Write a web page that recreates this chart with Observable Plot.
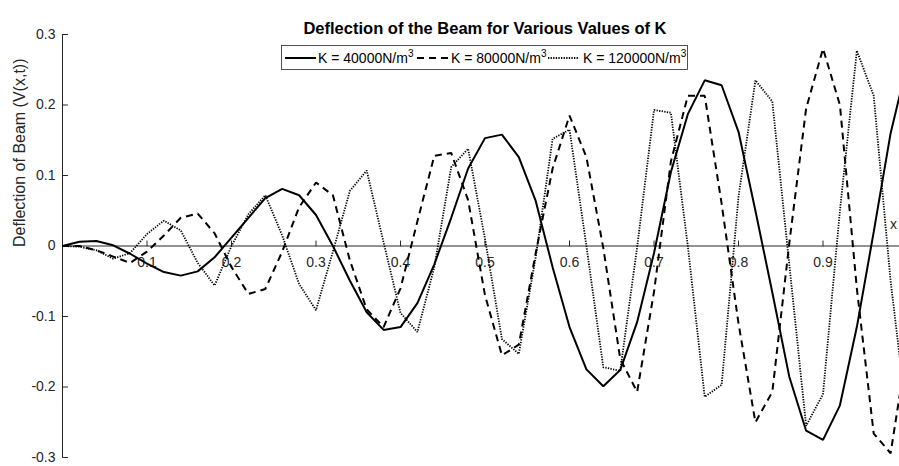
<!DOCTYPE html>
<html>
<head>
<meta charset="utf-8">
<script src="https://cdn.jsdelivr.net/npm/d3@7"></script>
<script src="https://cdn.jsdelivr.net/npm/@observablehq/plot@0.6"></script>
<style>
  html, body { margin: 0; padding: 0; background: #ffffff; }
  #chart { width: 899px; height: 466px; overflow: hidden; }
  #chart svg { display: block; }
</style>
</head>
<body>
<div id="chart"></div>
<script>
// ---- data ----
const xs = [0, 0.02, 0.04, 0.06, 0.08, 0.10, 0.12, 0.14, 0.16, 0.18,
            0.20, 0.22, 0.24, 0.26, 0.28, 0.30, 0.32, 0.34, 0.36, 0.38,
            0.40, 0.42, 0.44, 0.46, 0.48, 0.50, 0.52, 0.54, 0.56, 0.58,
            0.60, 0.62, 0.64, 0.66, 0.68, 0.70, 0.72, 0.74, 0.76, 0.78,
            0.80, 0.82, 0.84, 0.86, 0.88, 0.90, 0.92, 0.94, 0.96, 0.98, 1.00];

const k40000 = [0, 0.006, 0.007, 0.001, -0.011, -0.025, -0.037, -0.042, -0.036, -0.016,
                0.012, 0.040, 0.068, 0.081, 0.072, 0.044, 0.000, -0.049, -0.094, -0.119,
                -0.115, -0.081, -0.026, 0.040, 0.110, 0.153, 0.158, 0.126, 0.064, -0.030,
                -0.115, -0.175, -0.199, -0.176, -0.108, -0.010, 0.105, 0.187, 0.235, 0.228,
                0.162, 0.050, -0.066, -0.185, -0.262, -0.275, -0.226, -0.115, 0.020, 0.160, 0.260];

const k80000 = [0, 0.000, -0.006, -0.015, -0.024, -0.008, 0.015, 0.040, 0.046, 0.018,
                -0.030, -0.068, -0.061, -0.008, 0.055, 0.090, 0.072, -0.020, -0.090, -0.115,
                -0.060, 0.035, 0.128, 0.132, 0.065, -0.070, -0.155, -0.140, -0.010, 0.110,
                0.185, 0.126, -0.003, -0.160, -0.207, -0.065, 0.120, 0.213, 0.213, 0.060,
                -0.110, -0.250, -0.207, 0.003, 0.195, 0.280, 0.200, -0.060, -0.266, -0.294, -0.140];

const k120000 = [0, -0.001, -0.006, -0.018, -0.010, 0.017, 0.036, 0.022, -0.024, -0.056,
                 0.000, 0.045, 0.072, 0.015, -0.054, -0.091, -0.008, 0.078, 0.107, 0.005,
                 -0.095, -0.122, -0.030, 0.112, 0.138, 0.010, -0.132, -0.153, -0.016, 0.152,
                 0.165, 0.000, -0.172, -0.177, -0.002, 0.193, 0.189, 0.000, -0.214, -0.197,
                 0.070, 0.235, 0.205, -0.025, -0.255, -0.210, 0.050, 0.277, 0.213, -0.050, -0.250];

const seriesNames = ["K = 40000N/m", "K = 80000N/m", "K = 120000N/m"];
const seriesSup = "3";

const xTicks = [0.1, 0.2, 0.3, 0.4, 0.5, 0.6, 0.7, 0.8, 0.9];
const xTickLabels = ["0.1", "0.2", "0.3", "0.4", "0.5", "0.6", "0.7", "0.8", "0.9"];
const yTicks = [-0.3, -0.2, -0.1, 0, 0.1, 0.2, 0.3];
const yTickLabels = ["-0.3", "-0.2", "-0.1", "0", "0.1", "0.2", "0.3"];

const titleText = "Deflection of the Beam for Various Values of K";
const yLabelText = "Deflection of Beam (V(x,t))";
const xLabelText = "x";

// ---- build table ----
const seriesValues = [k40000, k80000, k120000];
const rows = [];
seriesValues.forEach((vals, s) => vals.forEach((v, i) => rows.push({x: xs[i], v, s})));

const styles = [
  {strokeWidth: 2, strokeDasharray: null},
  {strokeWidth: 2, strokeDasharray: "7,5"},
  {strokeWidth: 1.8, strokeDasharray: "1.3,1.3"}
];

const axisColor = "#262626";
const font = "Arial, 'Liberation Sans', Helvetica, sans-serif";
const yLabelMap = new Map(yTicks.map((t, i) => [t, yTickLabels[i]]));

const tickShape = {
  draw(context, l) { context.moveTo(0, 0); context.lineTo(0, -l); }
};

const chart = Plot.plot({
  width: 899,
  height: 466,
  marginTop: 34,
  marginBottom: 9,
  marginLeft: 62,
  marginRight: 0,
  style: {fontFamily: font, background: "#ffffff", color: axisColor},
  x: {domain: [0, 0.9905], axis: null},
  y: {domain: [-0.3, 0.3], axis: null},
  marks: [
    // y axis spine and x axis line through the origin
    Plot.ruleX([0], {stroke: axisColor, strokeWidth: 1}),
    Plot.ruleY([0], {stroke: axisColor, strokeWidth: 1}),
    // y axis labels
    Plot.axisY(yTicks, {
      anchor: "left", tickSize: 0, tickPadding: 7, fontSize: 14,
      tickFormat: d => yLabelMap.get(d), fill: axisColor, label: null
    }),
    // inward ticks on y axis
    Plot.vector(yTicks, {x: 0, y: d => d, length: 5, rotate: 90, anchor: "start",
      shape: tickShape, stroke: axisColor, strokeWidth: 1}),
    // inward (upward) ticks on x axis at y = 0
    Plot.vector(xTicks, {x: d => d, y: 0, length: 5, rotate: 0, anchor: "start",
      shape: tickShape, stroke: axisColor, strokeWidth: 1}),
    // x tick labels below the origin axis
    Plot.text(xTicks, {x: d => d, y: 0, text: (d, i) => xTickLabels[i], dy: 17,
      fontSize: 14, fill: axisColor}),
    // series
    ...seriesValues.map((_, s) => Plot.line(rows.filter(r => r.s === s), {
      x: "x", y: "v", stroke: "#000000", strokeWidth: styles[s].strokeWidth,
      strokeDasharray: styles[s].strokeDasharray, clip: true,
      strokeLinejoin: "miter", strokeLinecap: "butt"
    })),
    // title
    Plot.text([titleText], {frameAnchor: "top", dx: 4, dy: -12, fontSize: 16.5,
      fontWeight: "bold", fill: "#000000"}),
    // y label
    Plot.text([yLabelText], {frameAnchor: "left", dx: -43, dy: 1, rotate: -90,
      fontSize: 16, fill: axisColor})
  ]
});

document.getElementById("chart").appendChild(chart);

// ---- x label (at the right end) and legend ----
const svg = d3.select(chart);
svg.append("text")
  .attr("x", 890).attr("y", 229).attr("text-anchor", "start")
  .attr("font-size", 14).attr("font-family", font).attr("fill", axisColor)
  .text(xLabelText);

const legend = svg.append("g").attr("font-family", font).attr("font-size", 14)
  .attr("text-anchor", "start");
legend.append("rect")
  .attr("x", 281.5).attr("y", 45.5).attr("width", 406).attr("height", 24)
  .attr("fill", "#ffffff").attr("stroke", axisColor).attr("stroke-width", 0.8);
const sampleX = [285, 417, 548];
const textX = [318, 451, 583];
seriesNames.forEach((name, s) => {
  legend.append("line")
    .attr("x1", sampleX[s]).attr("x2", sampleX[s] + 31)
    .attr("y1", 58).attr("y2", 58)
    .attr("stroke", "#000").attr("stroke-width", styles[s].strokeWidth)
    .attr("stroke-dasharray", styles[s].strokeDasharray);
  const t = legend.append("text").attr("x", textX[s]).attr("y", 63)
    .attr("fill", "#000").attr("text-anchor", "start");
  t.append("tspan").text(name);
  t.append("tspan").attr("dy", -6).attr("font-size", 10).text(seriesSup);
});
</script>
</body>
</html>
